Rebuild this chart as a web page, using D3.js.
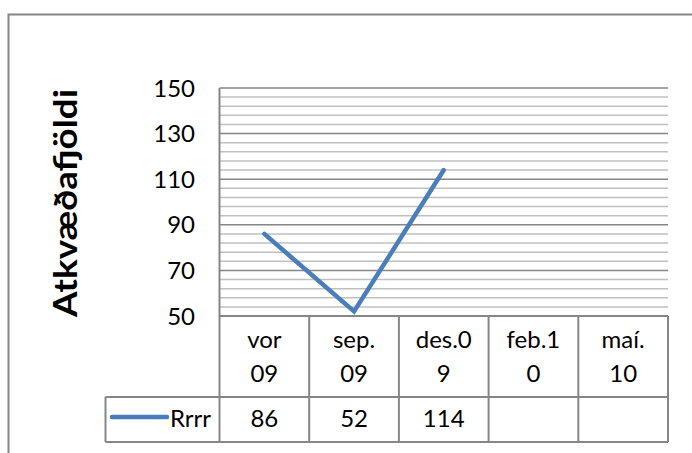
<!DOCTYPE html>
<html>
<head>
<meta charset="utf-8">
<script src="https://cdn.jsdelivr.net/npm/d3@7"></script>
<style>
  body { margin: 0; background: #fff; }
  svg { display: block; }
  text { font-family: Lato, "Open Sans", sans-serif; fill: #000; }
</style>
</head>
<body>
<svg width="692" height="453"></svg>
<script>
var categories = ["vor 09", "sep. 09", "des.09", "feb.10", "maí.10"];
var categoryLines = [["vor", "09"], ["sep.", "09"], ["des.0", "9"], ["feb.1", "0"], ["maí.", "10"]];
var values = [86, 52, 114, null, null];
var seriesName = "Rrrr";
var yTicks = [50, 70, 90, 110, 130, 150];
var yTitle = "Atkvæðafjöldi";

var svg = d3.select("svg");
var gridDark = "#868686";
var gridLight = "#c0c0c0";
var blue = "#4a7ebb";
var fontSize = 24;

var plotLeft = 219.5, plotRight = 668, plotTop = 88, plotBottom = 316;
var headerBottom = 397, tableBottom = 442, legendLeft = 105.5;

// outer chart border (runs off the right and bottom)
svg.append("rect")
    .attr("x", 8.5).attr("y", 14.5)
    .attr("width", 720).attr("height", 480)
    .attr("fill", "none")
    .attr("stroke", gridDark)
    .attr("stroke-width", 2);

var x = d3.scaleBand().domain(categories).range([plotLeft, plotRight]);
var y = d3.scaleLinear().domain([50, 150]).range([plotBottom, plotTop]);

// minor gridlines every 4
svg.append("g").selectAll("line")
    .data(d3.range(54, 150, 4).filter(function (d) { return d % 20 !== 10; }))
    .enter().append("line")
    .attr("x1", plotLeft).attr("x2", plotRight)
    .attr("y1", function (d) { return y(d); })
    .attr("y2", function (d) { return y(d); })
    .attr("stroke", gridLight)
    .attr("stroke-width", 1.5);

// major gridlines
svg.append("g").selectAll("line")
    .data(yTicks.slice(1))
    .enter().append("line")
    .attr("x1", plotLeft).attr("x2", plotRight)
    .attr("y1", function (d) { return y(d); })
    .attr("y2", function (d) { return y(d); })
    .attr("stroke", gridDark)
    .attr("stroke-width", 1.5);

// y axis line
svg.append("line")
    .attr("x1", plotLeft).attr("x2", plotLeft)
    .attr("y1", plotTop).attr("y2", tableBottom)
    .attr("stroke", gridDark).attr("stroke-width", 2);

// y labels
svg.append("g").selectAll("text")
    .data(yTicks)
    .enter().append("text")
    .attr("x", 195)
    .attr("y", function (d) { return y(d); })
    .attr("dy", "0.36em")
    .attr("text-anchor", "end")
    .attr("font-size", fontSize)
    .text(function (d) { return d; });

// y title
svg.append("text")
    .attr("transform", "translate(77,203) rotate(-90)")
    .attr("text-anchor", "middle")
    .attr("font-size", 32)
    .attr("font-weight", "bold")
    .attr("textLength", 228)
    .attr("lengthAdjust", "spacingAndGlyphs")
    .text(yTitle);

// data table grid
var tableColor = gridDark;
svg.append("line").attr("x1", plotLeft).attr("x2", plotRight).attr("y1", plotBottom).attr("y2", plotBottom)
    .attr("stroke", tableColor).attr("stroke-width", 2);
svg.append("line").attr("x1", legendLeft).attr("x2", plotRight).attr("y1", headerBottom).attr("y2", headerBottom)
    .attr("stroke", tableColor).attr("stroke-width", 2);
svg.append("line").attr("x1", legendLeft).attr("x2", plotRight).attr("y1", tableBottom).attr("y2", tableBottom)
    .attr("stroke", tableColor).attr("stroke-width", 2);
svg.append("line").attr("x1", legendLeft).attr("x2", legendLeft).attr("y1", headerBottom).attr("y2", tableBottom)
    .attr("stroke", tableColor).attr("stroke-width", 2);
svg.append("g").selectAll("line")
    .data(categories)
    .enter().append("line")
    .attr("x1", function (d) { return x(d) + x.bandwidth(); })
    .attr("x2", function (d) { return x(d) + x.bandwidth(); })
    .attr("y1", plotBottom).attr("y2", tableBottom)
    .attr("stroke", tableColor).attr("stroke-width", 2);

// header labels
var heads = svg.append("g").selectAll("text")
    .data(categories)
    .enter().append("text")
    .attr("text-anchor", "middle")
    .attr("font-size", fontSize);
heads.selectAll("tspan")
    .data(function (d, i) { return categoryLines[i].map(function (t) { return { t: t, c: d }; }); })
    .enter().append("tspan")
    .attr("x", function (d) { return x(d.c) + x.bandwidth() / 2; })
    .attr("y", function (d, j) { return 348 + j * 34; })
    .text(function (d) { return d.t; });

// data row
svg.append("g").selectAll("text")
    .data(categories)
    .enter().append("text")
    .attr("x", function (d) { return x(d) + x.bandwidth() / 2; })
    .attr("y", 427)
    .attr("text-anchor", "middle")
    .attr("font-size", fontSize)
    .text(function (d, i) { return values[i] == null ? "" : values[i]; });

// legend key
svg.append("line")
    .attr("x1", 112).attr("x2", 167).attr("y1", 417).attr("y2", 417)
    .attr("stroke", blue).attr("stroke-width", 4.5).attr("stroke-linecap", "round");
svg.append("text")
    .attr("x", 170).attr("y", 427)
    .attr("font-size", fontSize)
    .text(seriesName);

// series line
var line = d3.line()
    .defined(function (d) { return d != null; })
    .x(function (d, i) { return x(categories[i]) + x.bandwidth() / 2; })
    .y(function (d) { return y(d); });
svg.append("path")
    .datum(values)
    .attr("d", line)
    .attr("fill", "none")
    .attr("stroke", blue)
    .attr("stroke-width", 4.5)
    .attr("stroke-linejoin", "miter")
    .attr("stroke-linecap", "round");
</script>
</body>
</html>
